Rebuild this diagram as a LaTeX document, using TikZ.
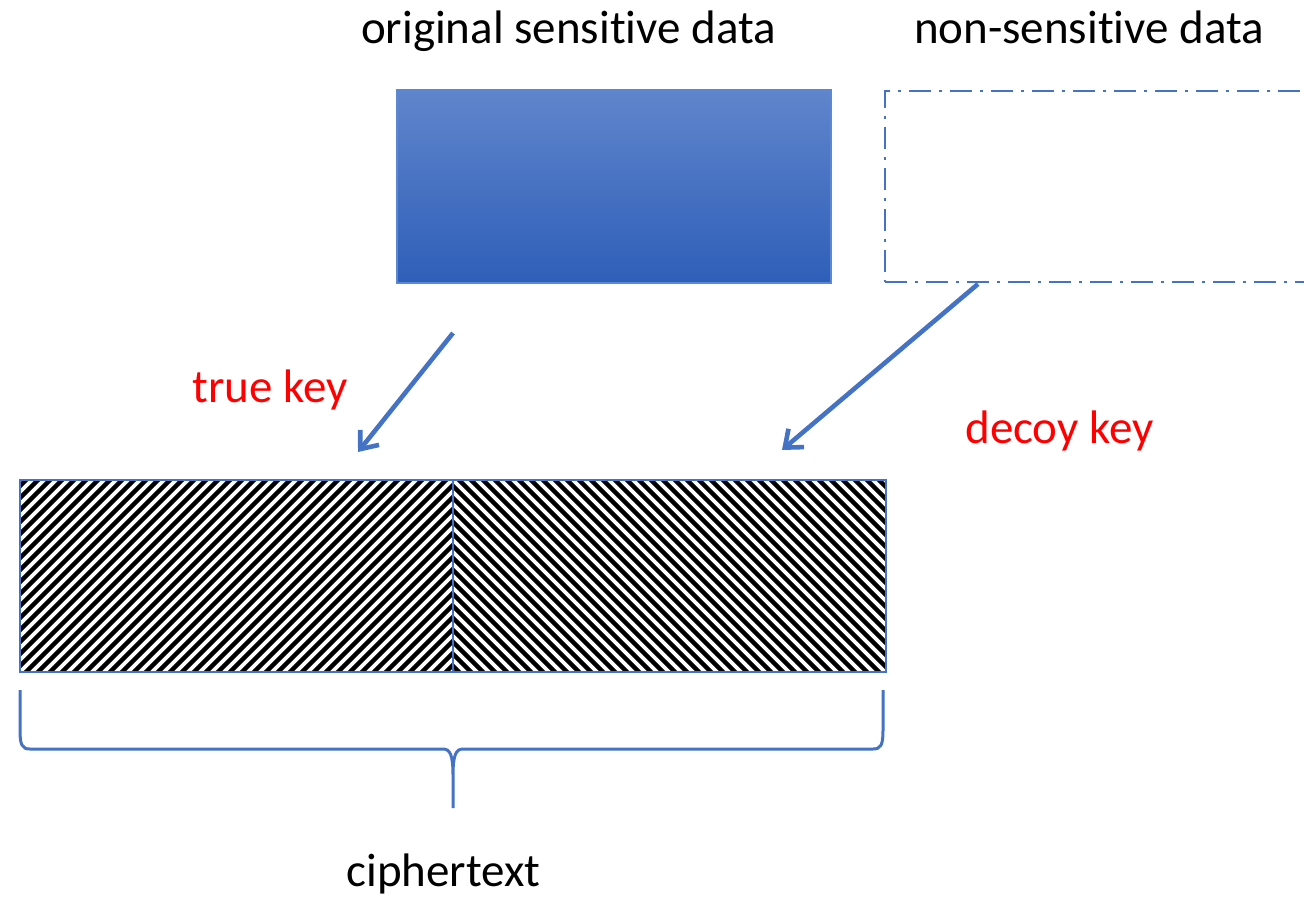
\documentclass[tikz,border=0pt]{standalone}
\usepackage{fontspec}
\setmainfont{Carlito}[RawFeature={-liga;-clig;-calt;-dlig}]
\usepackage{tikz}
\usetikzlibrary{arrows.meta}
\definecolor{accentblue}{RGB}{68,114,196}
\definecolor{gradtop}{RGB}{96,133,204}
\definecolor{gradbottom}{RGB}{46,95,184}
\definecolor{gradedge}{RGB}{92,135,214}

\tikzset{
	label text/.style={inner sep=0pt, anchor=base, font=\fontsize{47}{56}\selectfont},
	key text/.style={label text, text={rgb,255:red,255;green,0;blue,0}},
	databox/.style={minimum width=434pt, minimum height=193pt, inner sep=0pt,
		draw=gradedge, line width=2pt, top color=gradtop, bottom color=gradbottom},
	decoybox/.style={minimum width=440pt, minimum height=191pt, inner sep=0pt,
		draw=accentblue, line width=2.8pt,
		dash pattern=on 22pt off 8pt on 3pt off 8pt},
	cipherhalf/.style={minimum width=433pt, minimum height=192pt, inner sep=0pt,
		draw=accentblue, line width=2.8pt},
	hatchline/.style={black, line width=4.3pt},
	keyarrow/.style={draw=accentblue, line width=4.6pt,
		-{Straight Barb[length=15pt,width=24pt]}},
}

\begin{document}
\begin{tikzpicture}[x=1pt, y=-1pt]
		\useasboundingbox (0,0) rectangle (1304,901);
		
		% data blocks on top
		\node[databox] (sens) at (614,186.5) {};
		\node[decoybox] (nonsens) at (1105,186.5) {};
		\node[label text] (senslabel) at (568.5,44) {original sensitive data};
		\node[label text] (nonsenslabel) at (1089,44) {non-sensitive data};
		
		% ciphertext halves
		\begin{scope}
			\clip (20,480) rectangle (453,672);
			\foreach \i in {-17,...,37} {
				\draw[hatchline] (20+12*\i,678) -- ++(204,-204);
			}
		\end{scope}
		\begin{scope}
			\clip (453,480) rectangle (885,672);
			\foreach \i in {-17,...,37} {
				\draw[hatchline] (453+12*\i,474) -- ++(204,204);
			}
		\end{scope}
		\node[cipherhalf] (ctleft) at (236.5,576) {};
		\node[cipherhalf] (ctright) at (669.5,576) {};
		
		\coordinate (A) at (453,333);
		\coordinate (B) at (358,452);
		\coordinate (C) at (978,284);
		\coordinate (D) at (782,450);
		\foreach \s/\t in {A/B, C/D} {
			\draw[keyarrow] (\s) -- (\t);
		}
		\node[key text] (truekey) at (270,402) {true key};
		\node[key text] (decoykey) at (1059.5,443) {decoy key};
		
		% brace under the ciphertext
		\coordinate (L) at (20,690);
		\coordinate (R) at (883,690);
		\coordinate (T) at (453,808);
		\draw[accentblue, line width=3pt, line join=round]
			(L) -- (20,730) .. controls (20,745) and (22,749) .. (30,749)
			-- (443,749) .. controls (450,749) and (453,755) .. (453,775) -- (T)
			(453,775) .. controls (453,755) and (456,749) .. (463,749)
			-- (873,749) .. controls (881,749) and (883,745) .. (883,730) -- (R);
		\node[label text] (ciphertext) at (443.5,886) {ciphertext};
	\end{tikzpicture}
\end{document}
